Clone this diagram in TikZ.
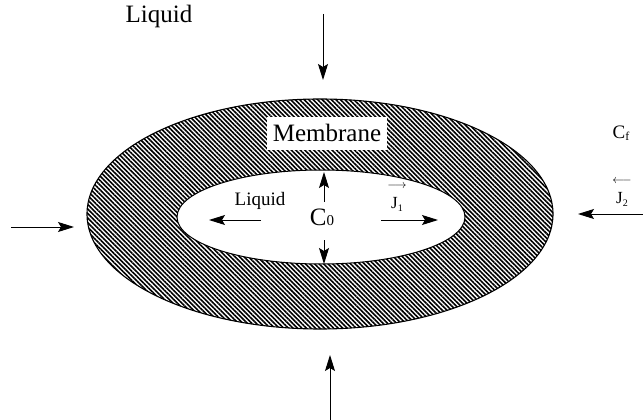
\documentclass[tikz,border=0pt]{standalone}
\usepackage{fontspec}
\setmainfont{Liberation Serif}
\usetikzlibrary{arrows.meta,patterns.meta}
\tikzset{
  flow/.style={line width=0.9pt,-{Stealth[length=16pt,width=10pt,inset=3pt]}},
  lbl/.style={inner sep=0pt,font=\fontsize{25}{28}\selectfont},
  small/.style={inner sep=0pt,font=\fontsize{19}{22}\selectfont},
  jlbl/.style={inner sep=0pt,align=center,font=\fontsize{17}{17}\selectfont},
}
\newcommand{\jsub}[1]{J\raisebox{-3pt}{\fontsize{10}{10}\selectfont #1}}
\begin{document}
\begin{tikzpicture}[x=1pt,y=-1pt]
\useasboundingbox (0,0) rectangle (643,420);
% membrane ring
\fill[pattern={Lines[angle=-45,distance=3.2pt,line width=1.6pt]},pattern color=black,even odd rule]
  (320,214) ellipse [x radius=233,y radius=115]
  (321,217) ellipse [x radius=144,y radius=47];
\draw[line width=1.1pt] (320,214) ellipse [x radius=233,y radius=115];
\draw[line width=1pt] (321,217) ellipse [x radius=144,y radius=47];
% labels
\node[lbl] (liqtop) at (159,16) {Liquid};
\node[lbl,fill=white,minimum width=120pt,minimum height=33pt] (memb) at (327,133) {Membrane};
\node[small] (liqin) at (260,201) {Liquid};
\node[lbl] (c0) at (322,217) {C\raisebox{0pt}{\fontsize{15}{15}\selectfont 0}};
\node[small] (cf) at (621,133) {C\raisebox{-2pt}{\fontsize{12}{12}\selectfont f}};
\node[jlbl] (j1) at (397,198) {$\scriptstyle\longrightarrow$\\[3pt]\jsub{1}};
\node[jlbl] (j2) at (622,193) {$\scriptstyle\longleftarrow$\\[3pt]\jsub{2}};
% arrow end points
\coordinate (ts) at (323,14);  \coordinate (te) at (323,80);
\coordinate (bs) at (330,420); \coordinate (be) at (330,355);
\coordinate (ls) at (11,227);  \coordinate (le) at (74,227);
\coordinate (rs) at (643,214); \coordinate (re) at (578,214);
\coordinate (us) at (324,202); \coordinate (ue) at (324,172);
\coordinate (ds) at (324,240); \coordinate (de) at (324,264);
\coordinate (ils) at (261,220); \coordinate (ile) at (209,220);
\coordinate (irs) at (381,220); \coordinate (ire) at (438,220);
\draw[flow] (ts) -- (te);
\draw[flow] (bs) -- (be);
\draw[flow] (ls) -- (le);
\draw[flow] (rs) -- (re);
\draw[flow] (us) -- (ue);
\draw[flow] (ds) -- (de);
\draw[flow] (ils) -- (ile);
\draw[flow] (irs) -- (ire);
\end{tikzpicture}
\end{document}
